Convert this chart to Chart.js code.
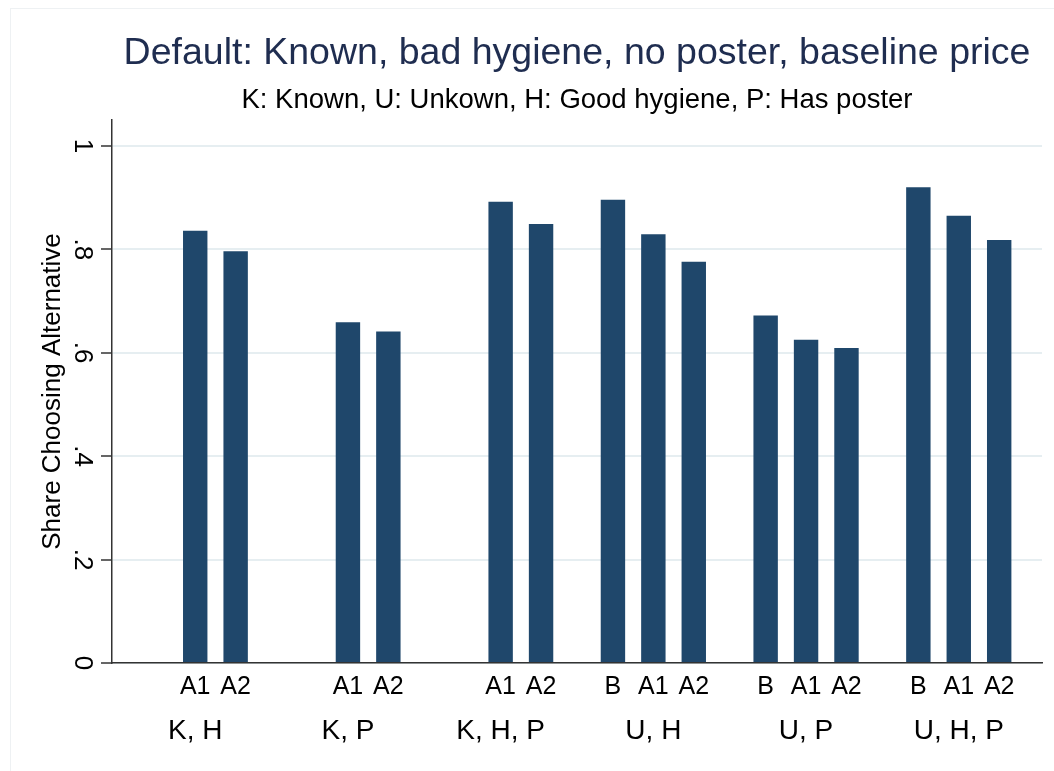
<!DOCTYPE html>
<html lang="en">
<head>
    <meta charset="UTF-8">
    <title>Share Choosing Alternative</title>
    <script src="https://cdn.jsdelivr.net/npm/chart.js"></script>
    <style>
        body {
            margin: 0;
            padding: 0;
            background: #fff;
        }

        /* Chart box */
        .wrap {
            position: relative;
            width: 1054px;
            height: 771px;
            overflow: hidden;
        }

        /* faint outer frame of the graph region */
        .frame {
            position: absolute;
            left: 10px;
            top: 8px;
            width: 1060px;
            height: 780px;
            border: 1px solid #eef1f3;
        }

        canvas {
            position: absolute;
            left: 0;
            top: 0;
        }
    </style>
</head>
<body>

<div class="wrap">
    <div class="frame"></div>
    <canvas id="shareChart" width="1054" height="771"></canvas>
</div>

<script>
    // groups on the x axis
    const groups = ['K, H', 'K, P', 'K, H, P', 'U, H', 'U, P', 'U, H, P'];
    // bar labels inside each group
    const subLabels = ['B', 'A1', 'A2'];
    // share choosing each alternative (null = not shown)
    const valuesB  = [null, null, null, 0.896, 0.672, 0.920];
    const valuesA1 = [0.836, 0.659, 0.892, 0.829, 0.625, 0.865];
    const valuesA2 = [0.796, 0.641, 0.849, 0.776, 0.609, 0.818];
    // y axis ticks
    const yTickValues = [0, 0.2, 0.4, 0.6, 0.8, 1];
    const yTickLabels = ['0', '.2', '.4', '.6', '.8', '1'];

    const FONT = "'Liberation Sans', Arial, Helvetica, sans-serif";
    const BAR_COLOR = '#1f476b';

    const series = [valuesB, valuesA1, valuesA2];

    // draws B / A1 / A2 under every bar
    const barLabels = {
        id: 'barLabels',
        afterDraw(chart) {
            const ctx = chart.ctx;
            ctx.save();
            ctx.font = '25px ' + FONT;
            ctx.fillStyle = '#000';
            ctx.textAlign = 'center';
            ctx.textBaseline = 'middle';
            chart.data.datasets.forEach((ds, d) => {
                chart.getDatasetMeta(d).data.forEach((bar, i) => {
                    if (ds.data[i].y === null) return;
                    ctx.fillText(ds.label, bar.x, chart.chartArea.bottom + 24);
                });
            });
            ctx.restore();
        }
    };

    const ctx = document.getElementById('shareChart').getContext('2d');
    new Chart(ctx, {
        type: 'bar',
        data: {
            datasets: series.map((vals, s) => ({
                label: subLabels[s],
                data: vals.map((v, i) => ({ x: i, y: v })),
                backgroundColor: BAR_COLOR,
                borderWidth: 0,
                categoryPercentage: 0.794,
                barPercentage: 0.604
            }))
        },
        options: {
            responsive: false,
            animation: false,
            layout: {
                padding: { left: 0, right: 12, top: 0, bottom: 0 }
            },
            plugins: {
                legend: { display: false },
                tooltip: { enabled: false },
                title: {
                    display: true,
                    text: 'Default: Known, bad hygiene, no poster, baseline price',
                    color: '#1f2d50',
                    fullSize: false,
                    font: { family: FONT, size: 37.5, weight: 'normal' },
                    padding: { top: 31, bottom: 0 }
                },
                subtitle: {
                    display: true,
                    text: 'K: Known, U: Unkown, H: Good hygiene, P: Has poster',
                    color: '#000',
                    fullSize: false,
                    font: { family: FONT, size: 27.5, weight: 'normal' },
                    padding: { top: 8, bottom: 3 }
                }
            },
            scales: {
                x: {
                    type: 'linear',
                    min: -0.545,
                    max: 5.545,
                    offset: false,
                    afterBuildTicks: (scale) => {
                        scale.ticks = groups.map((g, i) => ({ value: i }));
                    },
                    afterFit: (scale) => { scale.height = 108; },
                    ticks: {
                        autoSkip: false,
                        maxRotation: 0,
                        minRotation: 0,
                        padding: 43,
                        color: '#000',
                        font: { family: FONT, size: 28 },
                        callback: (value) => groups[value]
                    },
                    grid: { display: false },
                    border: { display: true, color: '#333', width: 1.5 }
                },
                y: {
                    min: 0,
                    max: 1.05,
                    afterBuildTicks: (scale) => {
                        scale.ticks = yTickValues.map(v => ({ value: v }));
                    },
                    afterFit: (scale) => { scale.width = 112; },
                    ticks: {
                        autoSkip: false,
                        minRotation: -90,
                        maxRotation: -90,
                        crossAlign: 'center',
                        padding: 8,
                        color: '#000',
                        font: { family: FONT, size: 26 },
                        callback: (value, index) => yTickLabels[index]
                    },
                    grid: {
                        color: '#e6eef1',
                        lineWidth: 2,
                        drawTicks: true,
                        tickLength: 11,
                        tickColor: '#333',
                        tickWidth: 1.5
                    },
                    border: { display: true, color: '#333', width: 1.5 },
                    title: {
                        display: true,
                        text: 'Share Choosing Alternative',
                        color: '#000',
                        font: { family: FONT, size: 26 },
                        padding: { top: 37, bottom: 0 }
                    }
                }
            }
        },
        plugins: [barLabels]
    });
</script>

</body>
</html>
